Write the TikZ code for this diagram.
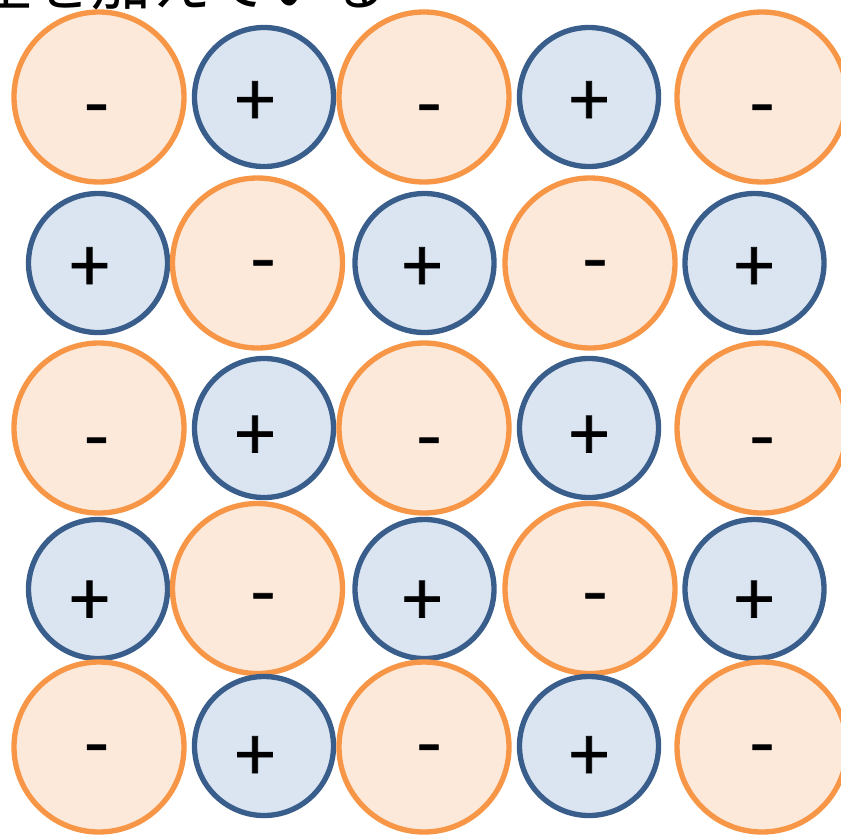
\documentclass[tikz,border=0pt]{standalone}
\usepackage{fontspec}
\setmainfont{Noto Sans CJK JP}
\newfontfamily\signfont[FakeBold=1.0]{Noto Sans CJK JP}
\definecolor{negline}{HTML}{F79646}
\definecolor{negfill}{HTML}{FDE9DA}
\definecolor{posline}{HTML}{3A5E8C}
\definecolor{posfill}{HTML}{DBE5F1}
\begin{document}
\begin{tikzpicture}[x=0.03cm, y=-0.03cm,
    negcharge/.style={draw=negline, fill=negfill, circle, line width=0.16cm, minimum size=5.1cm, inner sep=0pt},
    poscharge/.style={draw=posline, fill=posfill, circle, line width=0.16cm, minimum size=4.17cm, inner sep=0pt},
    sign/.style={font=\signfont\fontsize{62}{62}\selectfont, inner sep=0pt},
    minussign/.style={sign, yshift=-10pt},
    plussign/.style={sign, yshift=-2pt}]
    \useasboundingbox (0,0) rectangle (841,834);
    % Title (cut off at the top)
    \node (title) at (388,5) [anchor=base east, font=\fontsize{51}{51}\selectfont, inner sep=0pt] {電圧を加えている};

    % Row 1
    \node (c11) at (99,97) [negcharge] {};
    \node (c12) at (264,97) [poscharge] {};
    \node (c13) at (424,97) [negcharge] {};
    \node (c14) at (589,97) [poscharge] {};
    \node (c15) at (762,97) [negcharge] {};
    \node (s11) at (96.5,104.5) [minussign] {-};
    \node (s12) at (255,101.5) [plussign] {+};
    \node (s13) at (429,104.5) [minussign] {-};
    \node (s14) at (589,101.5) [plussign] {+};
    \node (s15) at (762,104.5) [minussign] {-};

    % Row 2
    \node (c21) at (98,263) [poscharge] {};
    \node (c22) at (257.5,263) [negcharge] {};
    \node (c23) at (424.5,263) [poscharge] {};
    \node (c24) at (590,263) [negcharge] {};
    \node (c25) at (754.5,263) [poscharge] {};
    \node (s21) at (89.5,267.5) [plussign] {+};
    \node (s22) at (263,260) [minussign] {-};
    \node (s23) at (422,267.5) [plussign] {+};
    \node (s24) at (595,260) [minussign] {-};
    \node (s25) at (754,267.5) [plussign] {+};

    % Row 3
    \node (c31) at (99,428) [negcharge] {};
    \node (c32) at (264,428) [poscharge] {};
    \node (c33) at (424,428) [negcharge] {};
    \node (c34) at (589,428) [poscharge] {};
    \node (c35) at (762,428) [negcharge] {};
    \node (s31) at (96.5,437.5) [minussign] {-};
    \node (s32) at (255,436) [plussign] {+};
    \node (s33) at (429,437.5) [minussign] {-};
    \node (s34) at (589,436) [plussign] {+};
    \node (s35) at (762,437.5) [minussign] {-};

    % Row 4
    \node (c41) at (98,589) [poscharge] {};
    \node (c42) at (257.5,588.5) [negcharge] {};
    \node (c43) at (424.5,589) [poscharge] {};
    \node (c44) at (590,588.5) [negcharge] {};
    \node (c45) at (754.5,589) [poscharge] {};
    \node (s41) at (89.5,601) [plussign] {+};
    \node (s42) at (263,593) [minussign] {-};
    \node (s43) at (422,601) [plussign] {+};
    \node (s44) at (595,593) [minussign] {-};
    \node (s45) at (754,601) [plussign] {+};

    % Row 5
    \node (c51) at (99,747) [negcharge] {};
    \node (c52) at (264,746) [poscharge] {};
    \node (c53) at (424,747) [negcharge] {};
    \node (c54) at (589,746) [poscharge] {};
    \node (c55) at (762,747) [negcharge] {};
    \node (s51) at (96.5,744.5) [minussign] {-};
    \node (s52) at (255,756.5) [plussign] {+};
    \node (s53) at (429,744.5) [minussign] {-};
    \node (s54) at (589,756.5) [plussign] {+};
    \node (s55) at (762,744.5) [minussign] {-};
\end{tikzpicture}
\end{document}
